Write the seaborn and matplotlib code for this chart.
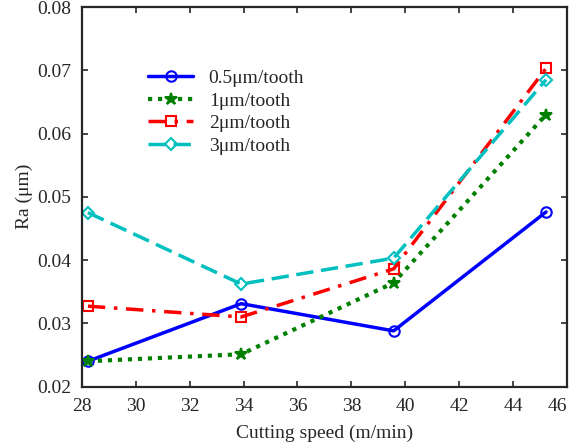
import pandas as pd
import matplotlib
matplotlib.use("Agg")
import matplotlib.pyplot as plt
import seaborn as sns

# cutting speed (m/min) and Ra (um) per feed rate
speed = [28.22, 33.91, 39.57, 45.23]
ra_05 = [0.0240, 0.0331, 0.0288, 0.0476]
ra_1 = [0.0240, 0.0251, 0.0364, 0.0630]
ra_2 = [0.0327, 0.0310, 0.0386, 0.0703]
ra_3 = [0.0475, 0.0362, 0.0403, 0.0685]
labels = ["0.5\u03bcm/tooth", "1\u03bcm/tooth", "2\u03bcm/tooth", "3\u03bcm/tooth"]

sns.set_style("ticks")
plt.rcParams["font.family"] = ["Liberation Serif", "DejaVu Serif"]
plt.rcParams["font.size"] = 14

fig = plt.figure(figsize=(5.71, 4.47), dpi=100)
ax = fig.add_axes([0.1436, 0.1353, 0.849, 0.849])

styles = [
    dict(color="#0000ff", marker="o", linestyle="-", lw=2.5),
    dict(color="#008000", marker="*", linestyle=(0, (1, 1.4)), lw=3),
    dict(color="#ff0000", marker="s", linestyle=(0, (5, 2.5, 1, 2.5)), lw=2.5),
    dict(color="#00bfbf", marker="D", linestyle=(0, (5, 2.2)), lw=2.5),
]
series = [ra_05, ra_1, ra_2, ra_3]

for vals, lab, st in zip(series, labels, styles):
    df = pd.DataFrame({"speed": speed, "ra": vals})
    filled = st["marker"] == "*"
    sns.lineplot(data=df, x="speed", y="ra", ax=ax, label=lab,
                 color=st["color"], linestyle=st["linestyle"], linewidth=st["lw"],
                 marker=st["marker"], markersize=9 if filled else (6 if st["marker"] == "D" else 7.5),
                 markerfacecolor=st["color"] if filled else "none",
                 markeredgecolor=st["color"], markeredgewidth=1.5)

ax.set_xlim(28, 46)
ax.set_ylim(0.02, 0.08)
ax.set_xticks(range(28, 47, 2))
ax.set_yticks([0.02, 0.03, 0.04, 0.05, 0.06, 0.07, 0.08])
ax.set_yticklabels(["0.02", "0.03", "0.04", "0.05", "0.06", "0.07", "0.08"])
ax.tick_params(direction="in", top=True, right=True, length=4, width=1.2,
               labelsize=14, pad=8)
ax.get_xticklabels()[-1].set_ha("right")
for sp in ax.spines.values():
    sp.set_visible(True)
    sp.set_linewidth(1.6)
ax.set_xlabel("Cutting speed (m/min)", fontsize=14, labelpad=7)
ax.set_ylabel("Ra (\u03bcm)", fontsize=14, labelpad=3)

ax.legend(loc="upper left", bbox_to_anchor=(0.101, 0.881), frameon=False,
          handlelength=2.3, handletextpad=0.8, labelspacing=0.25, fontsize=14)

fig.savefig("out.png", dpi=100)
